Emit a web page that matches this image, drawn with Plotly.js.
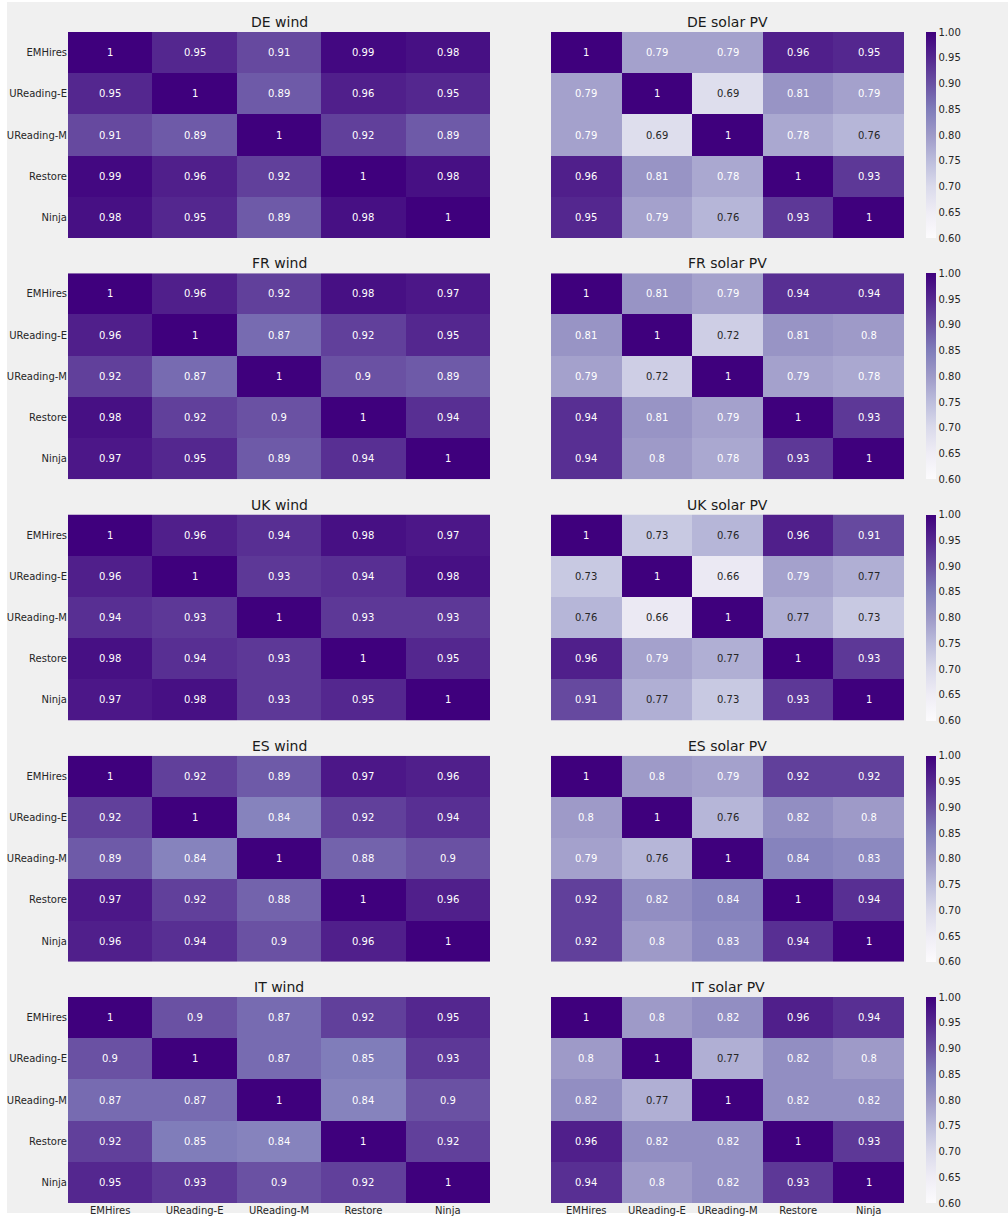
<!DOCTYPE html>
<html><head><meta charset="utf-8">
<script src="https://cdn.plot.ly/plotly-3.0.1.min.js"></script>
<style>html,body{margin:0;padding:0;background:#ffffff}</style>
</head><body><div id="chart" style="width:1008px;height:1220px"></div>
<script>
// ---- data ----
const models = ['EMHires', 'UReading-E', 'UReading-M', 'Restore', 'Ninja'];
const panelTitles = ['DE wind', 'DE solar PV', 'FR wind', 'FR solar PV', 'UK wind', 'UK solar PV', 'ES wind', 'ES solar PV', 'IT wind', 'IT solar PV'];

const deWind = [
  [1, 0.95, 0.91, 0.99, 0.98],
  [0.95, 1, 0.89, 0.96, 0.95],
  [0.91, 0.89, 1, 0.92, 0.89],
  [0.99, 0.96, 0.92, 1, 0.98],
  [0.98, 0.95, 0.89, 0.98, 1]];
const deSolar = [
  [1, 0.79, 0.79, 0.96, 0.95],
  [0.79, 1, 0.69, 0.81, 0.79],
  [0.79, 0.69, 1, 0.78, 0.76],
  [0.96, 0.81, 0.78, 1, 0.93],
  [0.95, 0.79, 0.76, 0.93, 1]];
const frWind = [
  [1, 0.96, 0.92, 0.98, 0.97],
  [0.96, 1, 0.87, 0.92, 0.95],
  [0.92, 0.87, 1, 0.9, 0.89],
  [0.98, 0.92, 0.9, 1, 0.94],
  [0.97, 0.95, 0.89, 0.94, 1]];
const frSolar = [
  [1, 0.81, 0.79, 0.94, 0.94],
  [0.81, 1, 0.72, 0.81, 0.8],
  [0.79, 0.72, 1, 0.79, 0.78],
  [0.94, 0.81, 0.79, 1, 0.93],
  [0.94, 0.8, 0.78, 0.93, 1]];
const ukWind = [
  [1, 0.96, 0.94, 0.98, 0.97],
  [0.96, 1, 0.93, 0.94, 0.98],
  [0.94, 0.93, 1, 0.93, 0.93],
  [0.98, 0.94, 0.93, 1, 0.95],
  [0.97, 0.98, 0.93, 0.95, 1]];
const ukSolar = [
  [1, 0.73, 0.76, 0.96, 0.91],
  [0.73, 1, 0.66, 0.79, 0.77],
  [0.76, 0.66, 1, 0.77, 0.73],
  [0.96, 0.79, 0.77, 1, 0.93],
  [0.91, 0.77, 0.73, 0.93, 1]];
const esWind = [
  [1, 0.92, 0.89, 0.97, 0.96],
  [0.92, 1, 0.84, 0.92, 0.94],
  [0.89, 0.84, 1, 0.88, 0.9],
  [0.97, 0.92, 0.88, 1, 0.96],
  [0.96, 0.94, 0.9, 0.96, 1]];
const esSolar = [
  [1, 0.8, 0.79, 0.92, 0.92],
  [0.8, 1, 0.76, 0.82, 0.8],
  [0.79, 0.76, 1, 0.84, 0.83],
  [0.92, 0.82, 0.84, 1, 0.94],
  [0.92, 0.8, 0.83, 0.94, 1]];
const itWind = [
  [1, 0.9, 0.87, 0.92, 0.95],
  [0.9, 1, 0.87, 0.85, 0.93],
  [0.87, 0.87, 1, 0.84, 0.9],
  [0.92, 0.85, 0.84, 1, 0.92],
  [0.95, 0.93, 0.9, 0.92, 1]];
const itSolar = [
  [1, 0.8, 0.82, 0.96, 0.94],
  [0.8, 1, 0.77, 0.82, 0.8],
  [0.82, 0.77, 1, 0.82, 0.82],
  [0.96, 0.82, 0.82, 1, 0.93],
  [0.94, 0.8, 0.82, 0.93, 1]];
const panelValues = [deWind, deSolar, frWind, frSolar, ukWind, ukSolar, esWind, esSolar, itWind, itSolar];
const colorbarTicks = [0.6, 0.65, 0.7, 0.75, 0.8, 0.85, 0.9, 0.95, 1.0];

// ---- style ----
const W = 1008, H = 1220;
const ZMIN = 0.6, ZMAX = 1.0;
const purplesHex = ['#fcfbfd', '#efedf5', '#dadaeb', '#bcbddc', '#9e9ac8', '#807dba', '#6a51a3', '#54278f', '#3f007d'];
const colorscale = purplesHex.map((c, i) => [i / (purplesHex.length - 1), c]);
const FONT = 'DejaVu Sans, sans-serif';
const colX = [[68, 490], [551, 904]];
const rowTop0 = 32, rowStep = 241.25, panelH = 206;

function hexToRgb(h) { return [1, 3, 5].map(i => parseInt(h.substr(i, 2), 16)); }
function cmap(v) {
  let t = Math.max(0, Math.min(1, (v - ZMIN) / (ZMAX - ZMIN))) * (purplesHex.length - 1);
  const i = Math.min(Math.floor(t), purplesHex.length - 2), f = t - i;
  const a = hexToRgb(purplesHex[i]), b = hexToRgb(purplesHex[i + 1]);
  return a.map((x, k) => x + (b[k] - x) * f);
}
function lum(rgb) {
  const c = rgb.map(x => { x /= 255; return x <= 0.03928 ? x / 12.92 : Math.pow((x + 0.055) / 1.055, 2.4); });
  return 0.2126 * c[0] + 0.7152 * c[1] + 0.0722 * c[2];
}

const data = [], annotations = [], layout = {
  width: W, height: H,
  margin: {l: 0, r: 0, t: 0, b: 0},
  paper_bgcolor: '#ffffff', plot_bgcolor: '#f0f0f0',
  font: {family: FONT, color: '#262626', size: 10},
  showlegend: false,
  shapes: [{type: 'rect', xref: 'paper', yref: 'paper', x0: 7 / W, x1: 1, y0: 7 / H, y1: 1 - 2 / H,
            fillcolor: '#f0f0f0', line: {width: 0}, layer: 'below'}]
};

panelValues.forEach((z, p) => {
  const r = Math.floor(p / 2), c = p % 2;
  const top = rowTop0 + r * rowStep;
  const yd = [1 - (top + panelH) / H, 1 - top / H];
  const xd = [colX[c][0] / W, colX[c][1] / W];
  const n = p + 1, xa = 'x' + n, ya = 'y' + n;
  const trace = {
    type: 'heatmap', x: models, y: models, z: z, xaxis: xa, yaxis: ya,
    zmin: ZMIN, zmax: ZMAX, colorscale: colorscale, showscale: c === 1,
    hoverinfo: 'x+y+z'
  };
  if (c === 1) {
    trace.colorbar = {
      x: 926 / W, xanchor: 'left', xref: 'paper', xpad: 0,
      y: (yd[0] + yd[1]) / 2, yanchor: 'middle', ypad: 0,
      len: panelH / H, lenmode: 'fraction', thickness: 10, thicknessmode: 'pixels',
      outlinewidth: 0, ticks: '', tickvals: colorbarTicks,
      ticktext: colorbarTicks.map(v => v.toFixed(2)),
      tickfont: {family: FONT, size: 10, color: '#262626'}
    };
  }
  data.push(trace);
  layout['xaxis' + (n === 1 ? '' : n)] = {
    domain: xd, anchor: ya, type: 'category', showgrid: false, zeroline: false, ticks: '',
    showticklabels: r === 4, tickfont: {family: FONT, size: 10, color: '#262626'}, fixedrange: true
  };
  layout['yaxis' + (n === 1 ? '' : n)] = {
    domain: yd, anchor: xa, type: 'category', autorange: 'reversed', showgrid: false, zeroline: false,
    ticks: '', showticklabels: c === 0, tickfont: {family: FONT, size: 10, color: '#262626'}, fixedrange: true
  };
  annotations.push({
    text: panelTitles[p], xref: 'paper', yref: 'paper', x: (xd[0] + xd[1]) / 2, y: yd[1],
    xanchor: 'center', yanchor: 'bottom', yshift: 0, showarrow: false,
    font: {family: FONT, size: 14, color: '#1a1a1a'}
  });
  z.forEach((row, i) => row.forEach((v, j) => {
    const dark = lum(cmap(v)) > 0.42;
    annotations.push({
      text: String(v), xref: xa, yref: ya, x: models[j], y: models[i], showarrow: false,
      font: {family: FONT, size: 10, color: dark ? '#262626' : '#ffffff'}
    });
  }));
});
layout.annotations = annotations;
Plotly.newPlot('chart', data, layout, {displayModeBar: false, staticPlot: true});
</script></body></html>
